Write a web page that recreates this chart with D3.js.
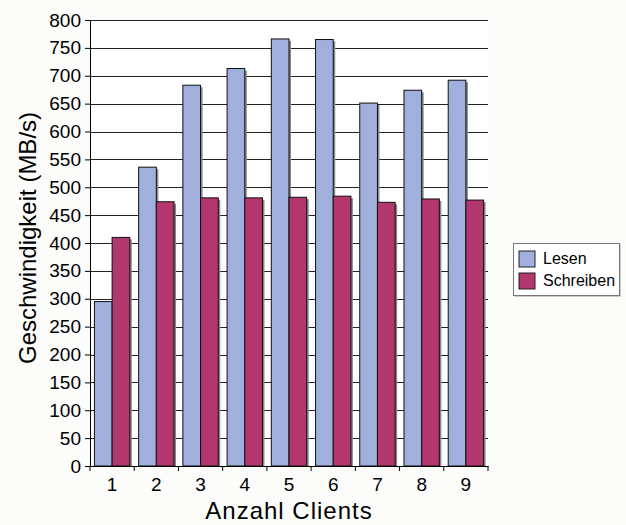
<!DOCTYPE html>
<html>
<head>
<meta charset="utf-8">
<script src="https://cdn.jsdelivr.net/npm/d3@7"></script>
<style>
  body { margin: 0; background: #fcfcfa; }
  text { font-family: Arial, "Liberation Sans", sans-serif; fill: #000; }
</style>
</head>
<body>
<svg id="chart" width="626" height="525"></svg>
<script>
// data
var clients = ["1", "2", "3", "4", "5", "6", "7", "8", "9"];
var lesen = [295, 536, 683, 713, 766, 765, 651, 674, 692];
var schreiben = [410, 474, 481, 481, 482, 484, 473, 479, 477];
var seriesNames = ["Lesen", "Schreiben"];
var seriesColors = ["#a0afdb", "#b3376f"];
var yTicks = d3.range(0, 801, 50);

var svg = d3.select("#chart");
var margin = {top: 20, left: 90, right: 138, bottom: 59};
var width = 626 - margin.left - margin.right,
    height = 525 - margin.top - margin.bottom;

var g = svg.append("g").attr("transform", "translate(" + margin.left + "," + margin.top + ")");

var x = d3.scaleBand().domain(clients).range([0, width]);
var xInner = d3.scaleBand().domain(seriesNames).range([0, x.bandwidth()]).paddingInner(0).paddingOuter(0.25);
var y = d3.scaleLinear().domain([0, 800]).range([height, 0]);

g.append("rect").attr("width", width).attr("height", height).attr("fill", "#fff");

// gridlines
g.selectAll("line.grid")
  .data(yTicks.slice(1))
  .enter().append("line")
  .attr("class", "grid")
  .attr("x1", 0).attr("x2", width)
  .attr("y1", function(d) { return Math.round(y(d)) + 0.5; })
  .attr("y2", function(d) { return Math.round(y(d)) + 0.5; })
  .attr("stroke", "#222").attr("stroke-width", 1);

var rows = clients.map(function(c, i) { return {c: c, vals: [lesen[i], schreiben[i]]}; });

var grp = g.selectAll("g.cat").data(rows).enter().append("g")
  .attr("transform", function(d) { return "translate(" + x(d.c) + ",0)"; });

// shadows
grp.selectAll("rect.sh")
  .data(function(d) { return d.vals.map(function(v, k) { return {k: k, v: v}; }); })
  .enter().append("rect")
  .attr("x", function(d) { return xInner(seriesNames[d.k]) + 2; })
  .attr("y", function(d) { return y(d.v) + 2; })
  .attr("width", xInner.bandwidth())
  .attr("height", function(d) { return height - y(d.v) - 2; })
  .attr("fill", "#888");

grp.selectAll("rect.bar")
  .data(function(d) { return d.vals.map(function(v, k) { return {k: k, v: v}; }); })
  .enter().append("rect")
  .attr("class", "bar")
  .attr("x", function(d) { return xInner(seriesNames[d.k]); })
  .attr("y", function(d) { return y(d.v); })
  .attr("width", xInner.bandwidth())
  .attr("height", function(d) { return height - y(d.v); })
  .attr("fill", function(d) { return seriesColors[d.k]; })
  .attr("stroke", "#111").attr("stroke-width", 1);

// axes
var yAxis = g.append("g").call(d3.axisLeft(y).tickValues(yTicks).tickSize(5).tickPadding(4));
yAxis.select(".domain").attr("stroke", "#000");
yAxis.selectAll("text").style("font-size", "19px");

var xAxis = g.append("g").attr("transform", "translate(0," + height + ")")
  .call(d3.axisBottom(x).tickSize(0).tickPadding(12));
xAxis.select(".domain").attr("stroke", "#000");
xAxis.selectAll("text").style("font-size", "19px");
// tick marks between categories
g.selectAll("line.xt")
  .data(d3.range(clients.length + 1))
  .enter().append("line")
  .attr("x1", function(i) { return i * x.step(); })
  .attr("x2", function(i) { return i * x.step(); })
  .attr("y1", height).attr("y2", height + 5)
  .attr("stroke", "#000");

// titles
svg.append("text")
  .attr("x", margin.left + width / 2).attr("y", 519)
  .attr("text-anchor", "middle").style("font-size", "24px").style("letter-spacing", "1px")
  .text("Anzahl Clients");
svg.append("text")
  .attr("transform", "translate(36,238) rotate(-90)")
  .attr("text-anchor", "middle").style("font-size", "24px")
  .text("Geschwindigkeit (MB/s)");

// legend
var lg = svg.append("g").attr("transform", "translate(513,243)");
lg.append("rect").attr("x", 1.5).attr("y", 1.5).attr("width", 106).attr("height", 52).attr("fill", "#999");
lg.append("rect").attr("x", 0.5).attr("y", 0.5).attr("width", 106).attr("height", 52)
  .attr("fill", "#fff").attr("stroke", "#777");
var li = lg.selectAll("g.li").data(seriesNames).enter().append("g")
  .attr("transform", function(d, i) { return "translate(6," + (8 + i * 22) + ")"; });
li.append("rect").attr("width", 16).attr("height", 16)
  .attr("fill", function(d, i) { return seriesColors[i]; }).attr("stroke", "#222");
li.append("text").attr("x", 24).attr("y", 13).style("font-size", "16px").text(function(d) { return d; });
</script>
</body>
</html>
